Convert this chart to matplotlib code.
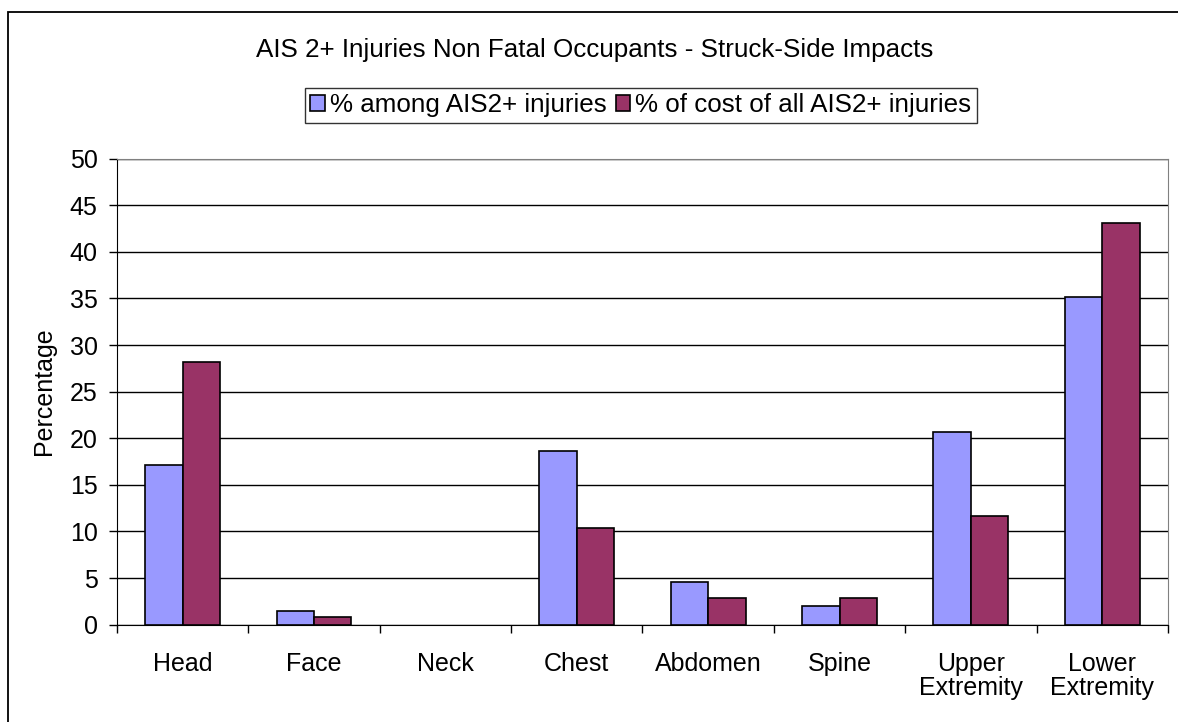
import numpy as np
import matplotlib.pyplot as plt
from matplotlib.patches import Rectangle

plt.rcParams['font.family'] = ['Liberation Sans', 'DejaVu Sans']

# datos
categorias = ['Head', 'Face', 'Neck', 'Chest', 'Abdomen', 'Spine',
              'Upper\nExtremity', 'Lower\nExtremity']
pct_lesiones = [17.1, 1.5, 0.0, 18.6, 4.6, 2.0, 20.7, 35.2]
pct_costo = [28.2, 0.8, 0.0, 10.4, 2.9, 2.9, 11.7, 43.1]
serie1 = '% among AIS2+ injuries'
serie2 = '% of cost of all AIS2+ injuries'
titulo = 'AIS 2+ Injuries Non Fatal Occupants - Struck-Side Impacts'

ventana = plt.figure(figsize=(11.78, 7.22), dpi=100)
plano = ventana.add_axes([0.0993, 0.1348, 0.8922, 0.6454])

x = np.arange(len(categorias))
w = 0.285
# sin borde para las barras en cero
lw1 = [1.2 if v > 0 else 0 for v in pct_lesiones]
lw2 = [1.2 if v > 0 else 0 for v in pct_costo]
plano.bar(x - w/2, pct_lesiones, w, color='#9999FF', edgecolor='black',
          linewidth=lw1, label=serie1, zorder=3)
plano.bar(x + w/2, pct_costo, w, color='#993366', edgecolor='black',
          linewidth=lw2, label=serie2, zorder=3)

plano.set_xlim(-0.5, len(categorias) - 0.5)
plano.set_ylim(0, 50)
plano.set_yticks(np.arange(0, 51, 5))
plano.yaxis.grid(True, color='black', linewidth=1, zorder=0)
plano.set_axisbelow(True)

# ticks del eje x entre categorias
plano.set_xticks(np.arange(-0.5, len(categorias), 1))
plano.set_xticklabels([])
plano.set_xticks(x, minor=True)
plano.set_xticklabels(categorias, minor=True, fontsize=18, linespacing=1.0)
plano.tick_params(axis='x', which='major', direction='out', length=6, width=1)
plano.tick_params(axis='x', which='minor', length=0, pad=20)
plano.tick_params(axis='y', direction='out', length=6, width=1, labelsize=18, pad=8)

plano.set_ylabel('Percentage', fontsize=18, labelpad=10)

plano.spines['top'].set_color('#808080')
plano.spines['right'].set_color('#808080')
plano.spines['left'].set_color('black')
plano.spines['bottom'].set_color('black')

ventana.text(0.5047, 1 - 57/722, titulo, ha='center', va='baseline', fontsize=18.7)

ley = ventana.legend(loc='center', bbox_to_anchor=(0.5441, 0.8539), ncol=2,
                     fontsize=18.7, frameon=True, fancybox=False, shadow=False,
                     handlelength=0.55, handleheight=0.55, handletextpad=0.2,
                     columnspacing=0.35, borderpad=0.2, borderaxespad=0)
ley.get_frame().set_edgecolor('black')
ley.get_frame().set_linewidth(1)

# borde exterior (solo se ven arriba e izquierda)
ventana.patches.append(Rectangle((8/1178, -0.05), 1.2, 1.05 - 12/722,
                                 transform=ventana.transFigure, fill=False,
                                 edgecolor='black', linewidth=1.3))

ventana.savefig('out.png', dpi=100)
